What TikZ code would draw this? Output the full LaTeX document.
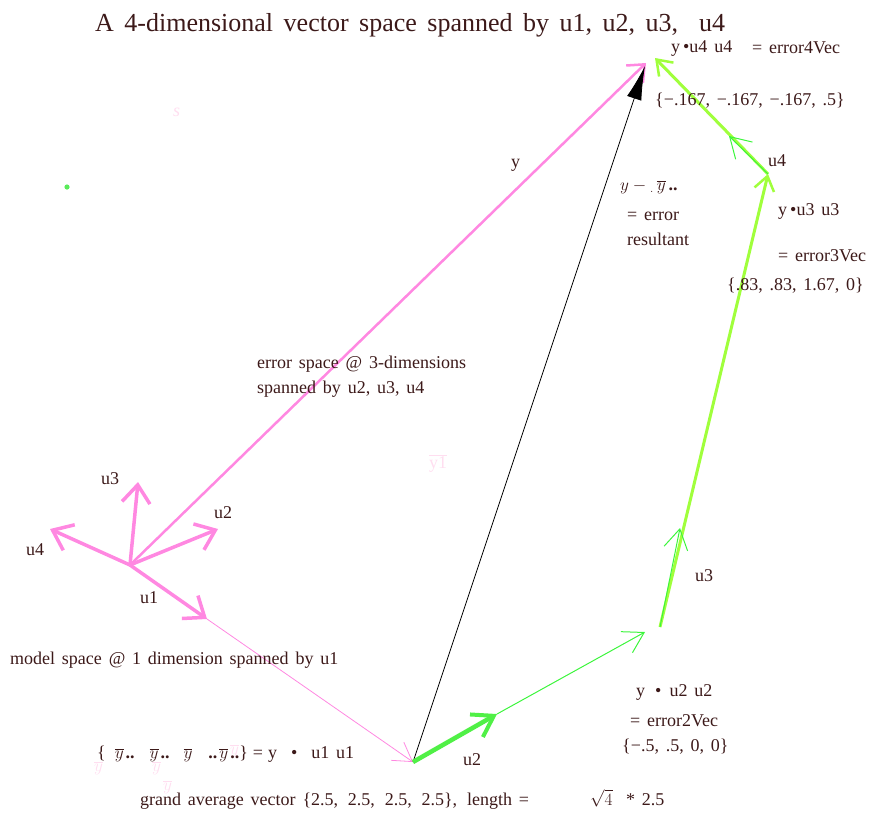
\documentclass[tikz,border=0pt]{standalone}
\usepackage{fontspec}
\setmainfont{Liberation Serif}
\usetikzlibrary{arrows.meta}
\definecolor{pk}{RGB}{255,136,225}
\definecolor{gthin}{RGB}{60,245,60}
\definecolor{gthick}{RGB}{80,240,70}
\definecolor{chart}{RGB}{160,255,60}
\definecolor{txt}{RGB}{60,25,25}
\definecolor{faint}{RGB}{255,222,240}
\definecolor{gdot}{RGB}{90,235,90}
\newcommand{\ybar}{$\overline{y}$}
\newcommand{\tsp}{\hspace{10.5pt}}
\newcommand{\lblfont}{\fontsize{18}{20}\selectfont\spaceskip 6.8pt plus 1pt minus 1pt\relax}
\tikzset{
  lbl/.style={anchor=base west, inner sep=0pt, text=txt, font=\lblfont},
  title/.style={anchor=base west, inner sep=0pt, text=txt, font=\fontsize{26}{30}\selectfont},
  fainttxt/.style={anchor=base west, inner sep=0pt, text=faint, font=\fontsize{18}{20}\selectfont},
  pvec/.style={draw=pk, line width=3.5pt, -{Straight Barb[length=18pt,width=28pt,line width=3.5pt]}},
  pyvec/.style={draw=pk, line width=2.5pt, -{Straight Barb[length=14pt,width=24pt,line width=2.5pt]}},
  pthin/.style={draw=pk, line width=0.8pt, -{Straight Barb[length=18pt,width=22pt,line width=0.8pt]}},
  blk/.style={draw=black, line width=0.8pt, -{Latex[length=34pt,width=15pt]}},
  gbig/.style={draw=gthick, line width=4.5pt, -{Straight Barb[length=20pt,width=26pt,line width=4pt]}},
  gthinv/.style={draw=gthin, line width=1pt, -{Straight Barb[length=20pt,width=24pt,line width=1pt]}},
  chvec/.style={draw=chart, line width=3pt, -{Straight Barb[length=14pt,width=20pt,line width=2.5pt]}},
}
\begin{document}
\begin{tikzpicture}[x=1pt,y=-1pt]
\useasboundingbox (0,0) rectangle (872,812);
% key points
\coordinate (O) at (130,565);
\coordinate (U1) at (207,619);
\coordinate (U2) at (218,529);
\coordinate (U3) at (138,482);
\coordinate (U4) at (50,529);
\coordinate (Y) at (646,63);
\coordinate (B) at (413,762);
\coordinate (BT) at (645,66);
\coordinate (G2) at (497,714);
\coordinate (E2) at (645,632);
\coordinate (C3) at (660,627);
\coordinate (G3) at (680,528);
\coordinate (E3) at (768,174);
\coordinate (G4) at (729,136);
\coordinate (E4) at (655,58);
% pink basis
\draw[pyvec] (O) -- (Y);
\draw[pvec] (O) -- (U2);
\draw[pvec] (O) -- (U3);
\draw[pvec] (O) -- (U4);
\draw[pvec] (O) -- (U1);
\draw[pthin] (U1) -- (B);
% black resultant
\draw[blk] (B) -- (BT);
% green path
\draw[gthinv] (G2) -- (E2);
\draw[gbig] (B) -- (G2);
\draw[chvec] (C3) -- (E3);
\draw[gthinv] (C3) -- (G3);
\draw[chvec] (E3) -- (E4);
\draw[gthinv] (E3) -- (G4);
% faint marks
\fill[gdot] (67,187) circle (2.6);
\node[fainttxt, font=\fontsize{18}{20}\selectfont\itshape] (fs) at (173,116) {s};
\node[fainttxt] (fy1) at (429,468) {$\overline{\mathrm{y1}}$};
\node[fainttxt] (fyb1) at (94,771) {\ybar};
\node[fainttxt] (fyb2) at (152,771) {\ybar};
\node[fainttxt] (fyb3) at (163,790) {\ybar};
\node[fainttxt] (fyb4) at (230,754) {\ybar};
% texts
\node[title] (ttl) at (95,31) {A\tsp4-dimensional\tsp vector\tsp space\tsp spanned\tsp by\tsp u1,\tsp u2,\tsp u3,\tsp\tsp u4};
\node[lbl] (t1) at (671,52) {y\,\textbullet u4 u4};
\node[lbl] (t2) at (752,53) {= error4Vec};
\node[lbl] (t3) at (655,105) {\{−.167, −.167, −.167, .5\}};
\node[lbl] (t4) at (768,166) {u4};
\node[lbl] (t5) at (778,215) {y\,\textbullet u3 u3};
\node[lbl] (t6) at (778,261) {= error3Vec};
\node[lbl] (t7) at (727,290) {\{.83, .83, 1.67, 0\}};
\node[lbl] (ty) at (511,167) {y};
\node[lbl] (t8) at (620,190) {$y - {}_{.}\,\overline{y}$\,\textbf{..}};
\node[lbl] (t9) at (627,220) {= error};
\node[lbl] (t10) at (627,245) {resultant};
\node[lbl] (t11) at (257,368) {error space @ 3-dimensions};
\node[lbl] (t12) at (257,393) {spanned by u2, u3, u4};
\node[lbl] (lu3) at (101,484) {u3};
\node[lbl] (lu2) at (214,518) {u2};
\node[lbl] (lu4) at (26,555) {u4};
\node[lbl] (lu1) at (140,603) {u1};
\node[lbl] (t13) at (10,664) {model space\ @ 1 dimension\ spanned by u1};
\node[lbl] (t14) at (695,581) {u3};
\node[lbl] (t15) at (636,696) {y\hspace{10pt}\textbullet\hspace{8pt}u2 u2};
\node[lbl] (t16) at (630,726) {= error2Vec};
\node[lbl] (t17) at (622,751) {\{−.5, .5, 0, 0\}};
\node[lbl] (t18) at (463,765) {u2};
\node[lbl] (t19) at (97,758) {\{\hspace{9pt}\ybar\hspace{2pt}\textbf{..}\hspace{15pt}\ybar\hspace{2pt}\textbf{..}\hspace{14pt}\ybar\hspace{16pt}\textbf{..}\hspace{2pt}\ybar\hspace{2pt}\textbf{..}\}\hspace{5pt}=\hspace{5pt}y\hspace{14pt}\textbullet\hspace{14pt}u1 u1};
\node[lbl] (t20) at (140,805) {grand average vector \{2.5,\hspace{3pt} 2.5,\hspace{3pt} 2.5,\hspace{3pt} 2.5\},\hspace{3pt} length =};
\node[lbl] (t21) at (590,805) {$\sqrt{4}$\ \ * 2.5};
\end{tikzpicture}
\end{document}
